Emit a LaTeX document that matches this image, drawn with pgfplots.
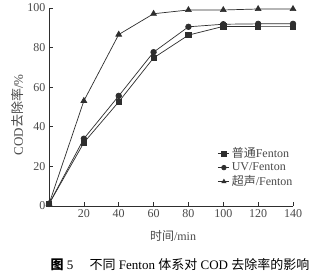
\documentclass[border=0pt]{standalone}
\usepackage{pgfplots}
\pgfplotsset{compat=1.18}
\usepackage{fontspec}
\setmainfont{Liberation Serif}
\newfontfamily\cjk{Noto Sans CJK SC}
\definecolor{ln}{HTML}{2E2E2E}
\definecolor{tx}{HTML}{4A4A4A}
\begin{document}
\begin{tikzpicture}[x=1pt,y=1pt]
\useasboundingbox[fill=white] (0,0) rectangle (320,276);
\begin{axis}[
  at={(49pt,70pt)}, anchor=origin,
  scale only axis, width=244pt, height=198pt,
  xmin=0, xmax=140, ymin=0, ymax=100,
  axis lines=left, axis line style={ln, -, line width=0.7pt},
  xtick={20,40,...,140}, ytick={0,20,...,100},
  tick align=inside, major tick length=4pt,
  tick style={ln, line width=0.7pt},
  ticklabel style={font=\fontsize{12}{13}\selectfont, text=tx},
  /pgf/number format/assume math mode=true,
  clip=false,
  legend style={at={(0.69,0.30)}, anchor=north west, draw=none, fill=none, inner sep=0pt,
    font=\fontsize{12}{13}\selectfont, text=tx, row sep=1.5pt,
    legend cell align=left, nodes={inner xsep=2.5pt, inner ysep=1pt}},
  legend image code/.code={\draw[#1, line width=0.7pt] (0pt,0pt) -- (11pt,0pt); \draw[#1, only marks, mark size=2.3pt] plot coordinates {(6pt,0pt)};},
]
\addplot[ln, line width=0.7pt, mark=square*, mark size=2.6pt] coordinates {
(0,1) (20,32) (40,52.6) (60,74.8) (80,86.3) (100,90.7) (120,90.6) (140,90.6)};
\addlegendentry{{\cjk 普通}Fenton}
\addplot[ln, line width=0.7pt, mark=*, mark size=2.8pt] coordinates {
(0,1) (20,34) (40,55.6) (60,77.7) (80,90.5) (100,91.8) (120,92) (140,92)};
\addlegendentry{UV/Fenton}
\addplot[ln, line width=0.7pt, mark=triangle*, mark size=3.3pt] coordinates {
(0,1) (20,53.1) (40,86.6) (60,97.1) (80,99) (100,99) (120,99.5) (140,99.5)};
\addlegendentry{{\cjk 超声}/Fenton}
\end{axis}
\node[text=tx, rotate=90, font=\fontsize{13}{14}\selectfont] at (18,161) {COD{\cjk 去除率}/\%};
\node[text=tx, font=\fontsize{12}{13}\selectfont] at (173,40) {{\cjk 时间}/min};
\node[text=black, font=\fontsize{13}{14}\selectfont] at (180,11) {{\cjk\bfseries 图} 5\quad\ {\cjk 不同} Fenton {\cjk 体系对} COD {\cjk 去除率的影响}};
\end{tikzpicture}
\end{document}
